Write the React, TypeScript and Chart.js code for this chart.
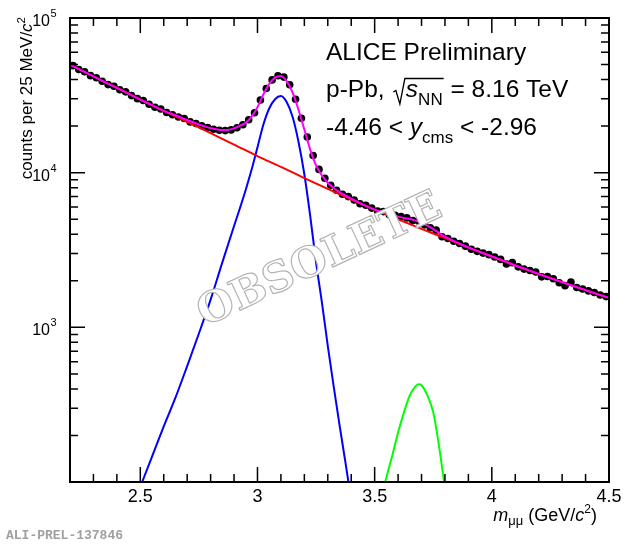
import React, { useEffect, useRef } from "react";
import { Chart, registerables } from "chart.js";

Chart.register(...registerables);

const SANS = '"Liberation Sans", Arial, Helvetica, sans-serif';
const MONO = '"Liberation Mono", "Courier New", monospace';
const STAMP = '"DejaVu Serif", "Liberation Serif", serif';

// dimuon invariant mass, 25 MeV/c^2 bins (centres)
const binCentres: number[] = [
  2.2125, 2.2375, 2.2625, 2.2875, 2.3125, 2.3375, 2.3625, 2.3875, 2.4125, 2.4375,
  2.4625, 2.4875, 2.5125, 2.5375, 2.5625, 2.5875, 2.6125, 2.6375, 2.6625, 2.6875,
  2.7125, 2.7375, 2.7625, 2.7875, 2.8125, 2.8375, 2.8625, 2.8875, 2.9125, 2.9375,
  2.9625, 2.9875, 3.0125, 3.0375, 3.0625, 3.0875, 3.1125, 3.1375, 3.1625, 3.1875,
  3.2125, 3.2375, 3.2625, 3.2875, 3.3125, 3.3375, 3.3625, 3.3875, 3.4125, 3.4375,
  3.4625, 3.4875, 3.5125, 3.5375, 3.5625, 3.5875, 3.6125, 3.6375, 3.6625, 3.6875,
  3.7125, 3.7375, 3.7625, 3.7875, 3.8125, 3.8375, 3.8625, 3.8875, 3.9125, 3.9375,
  3.9625, 3.9875, 4.0125, 4.0375, 4.0625, 4.0875, 4.1125, 4.1375, 4.1625, 4.1875,
  4.2125, 4.2375, 4.2625, 4.2875, 4.3125, 4.3375, 4.3625, 4.3875, 4.4125, 4.4375,
  4.4625, 4.4875,
];
const counts: number[] = [
  49200, 46500, 44900, 42400, 41100, 39000, 37100, 36200, 34400, 33300,
  31500, 30100, 29300, 27700, 26500, 25800, 24500, 23700, 22900, 22400,
  21300, 20800, 20100, 19600, 19100, 18800, 18700, 18900, 19500, 20400,
  22000, 24400, 29500, 35000, 39800, 42300, 41500, 37000, 29800, 22500,
  17000, 12900, 10500, 9200, 8300, 7700, 7250, 7000, 6650, 6300,
  6150, 5900, 5650, 5600, 5350, 5300, 5200, 5100, 4900, 4850,
  4600, 4400, 4250, 3850, 3750, 3600, 3480, 3350, 3200, 3100,
  3020, 2950, 2850, 2750, 2570, 2620, 2460, 2380, 2330, 2280,
  2120, 2130, 2060, 1940, 1860, 1960, 1810, 1770, 1720, 1680,
  1620, 1580,
];

// total fit (magenta)
const totalMass: number[] = [
  2.2, 2.25, 2.3, 2.35, 2.4, 2.45, 2.5, 2.55, 2.6, 2.65,
  2.7, 2.75, 2.8, 2.85, 2.875, 2.9, 2.925, 2.95, 2.975, 3.0,
  3.025, 3.05, 3.075, 3.1, 3.125, 3.15, 3.175, 3.2, 3.225, 3.25,
  3.275, 3.3, 3.325, 3.35, 3.4, 3.45, 3.5, 3.55, 3.6, 3.625,
  3.65, 3.675, 3.7, 3.725, 3.75, 3.775, 3.8, 3.85, 3.9, 3.95,
  4.0, 4.05, 4.1, 4.15, 4.2, 4.25, 4.3, 4.35, 4.4, 4.45, 4.5,
];
const totalFit: number[] = [
  49900, 45700, 41900, 38400, 35300, 32400, 29700, 27300, 25100, 23500,
  21900, 20500, 19400, 18850, 18900, 19350, 20100, 21000, 23000, 26500,
  32000, 37500, 41200, 42100, 38900, 32900, 25500, 19000, 14100, 11140,
  9600, 8610, 7970, 7490, 6790, 6220, 5770, 5470, 5200, 5090,
  5010, 4900, 4750, 4540, 4320, 4070, 3860, 3540, 3280, 3070,
  2870, 2690, 2510, 2360, 2210, 2080, 1960, 1845, 1740, 1640, 1550,
];

// background (red)
const bkgMass: number[] = [
  2.2, 2.3, 2.4, 2.5, 2.6, 2.7, 2.8, 2.9, 3.0, 3.1, 3.2, 3.3,
  3.4, 3.5, 3.6, 3.7, 3.8, 3.9, 4.0, 4.1, 4.2, 4.3, 4.4, 4.5,
];
const bkgFit: number[] = [
  49900, 41900, 35300, 29650, 25100, 21300, 18000, 15200, 12800, 10900, 9230, 7850,
  6710, 5770, 4990, 4330, 3770, 3280, 2870, 2510, 2210, 1960, 1740, 1550,
];

// J/psi signal (blue)
const jpsiMass: number[] = [
  2.5, 2.55, 2.6, 2.65, 2.7, 2.75, 2.8, 2.85, 2.9, 2.925, 2.95, 2.975, 3.0, 3.025, 3.05,
  3.075, 3.1, 3.125, 3.15, 3.175, 3.2, 3.225, 3.25, 3.275, 3.3, 3.325, 3.35, 3.375, 3.4,
];
const jpsiFit: number[] = [
  93, 146, 229, 351, 562, 912, 1510, 2630, 4520, 5890, 7760, 10470, 14620, 20420, 26000,
  29850, 31260, 28510, 22910, 15850, 9770, 5250, 2630, 1445, 759, 417, 234, 135, 76,
];

// psi(2S) signal (green)
const psi2sMass: number[] = [
  3.525, 3.55, 3.575, 3.6, 3.625, 3.65, 3.675, 3.69, 3.7, 3.725, 3.75, 3.775, 3.8, 3.825,
];
const psi2sFit: number[] = [76, 107, 148, 209, 282, 363, 417, 428, 422, 363, 282, 170, 91, 50];

const xMajor: number[] = [2.5, 3, 3.5, 4, 4.5];
const xMajorLabels: string[] = ["2.5", "3", "3.5", "4", "4.5"];
const yDecades: number[] = [1e3, 1e4, 1e5];
const yDecadeExp: string[] = ["3", "4", "5"];

type Seg = { t: string; size: number; italic?: boolean; dy?: number };

const setFont = (ctx: CanvasRenderingContext2D, s: Seg) => {
  ctx.font = `${s.italic ? "italic " : ""}${s.size}px ${SANS}`;
};

// draws a run of text pieces (sub/superscripts via dy), returns end x
const drawRich = (
  ctx: CanvasRenderingContext2D,
  segs: Seg[],
  x: number,
  y: number,
  align: "left" | "right" = "left"
) => {
  let w = 0;
  for (const s of segs) {
    setFont(ctx, s);
    w += ctx.measureText(s.t).width;
  }
  let cx = align === "right" ? x - w : x;
  for (const s of segs) {
    setFont(ctx, s);
    ctx.fillText(s.t, cx, y + (s.dy || 0));
    cx += ctx.measureText(s.t).width;
  }
  return cx;
};

const rootStyle = {
  id: "rootStyle",
  afterDraw(chart: Chart) {
    const ctx = chart.ctx;
    const { left, right, top, bottom } = chart.chartArea;
    const xs = chart.scales.x;
    const ys = chart.scales.y;

    // watermark
    ctx.save();
    ctx.translate(320, 261);
    ctx.rotate((-25 * Math.PI) / 180);
    ctx.font = `bold 42px ${STAMP}`;
    ctx.textAlign = "center";
    ctx.textBaseline = "middle";
    ctx.lineJoin = "round";
    ctx.fillStyle = "#ffffff";
    ctx.fillText("OBSOLETE", 0, 0);
    ctx.strokeStyle = "#b4b4b4";
    ctx.lineWidth = 1.2;
    ctx.strokeText("OBSOLETE", 0, 0);
    ctx.restore();

    ctx.save();
    ctx.strokeStyle = "#000";
    ctx.fillStyle = "#000";
    ctx.lineWidth = 1.5;

    // x ticks (bottom and top), every 0.1
    ctx.beginPath();
    for (let i = 22; i <= 45; i++) {
      const px = xs.getPixelForValue(i / 10);
      const len = i % 5 === 0 ? 15 : 8;
      ctx.moveTo(px, bottom);
      ctx.lineTo(px, bottom - len);
      ctx.moveTo(px, top);
      ctx.lineTo(px, top + len);
    }
    // y ticks (left and right)
    for (let d = 100; d <= 1e4; d *= 10) {
      for (let k = 1; k <= 9; k++) {
        const py = ys.getPixelForValue(d * k);
        const len = k === 1 ? 15 : 8;
        ctx.moveTo(left, py);
        ctx.lineTo(left + len, py);
        ctx.moveTo(right, py);
        ctx.lineTo(right - len, py);
      }
    }
    ctx.stroke();

    // frame
    ctx.lineWidth = 2;
    ctx.strokeRect(left, top, right - left, bottom - top);

    // x tick labels
    ctx.textBaseline = "alphabetic";
    ctx.textAlign = "center";
    ctx.font = `18px ${SANS}`;
    xMajor.forEach((v, i) => {
      ctx.fillText(xMajorLabels[i], xs.getPixelForValue(v), 502);
    });

    // y tick labels 10^n
    ctx.textAlign = "left";
    yDecades.forEach((v, i) => {
      const py = ys.getPixelForValue(v);
      drawRich(ctx, [{ t: "10", size: 16 }], 50, py + 8, "right");
      drawRich(ctx, [{ t: yDecadeExp[i], size: 11 }], 50.5, py - 1);
    });

    // axis titles
    drawRich(
      ctx,
      [
        { t: "m", size: 18, italic: true },
        { t: "\u03bc\u03bc", size: 13, dy: 4 },
        { t: " (GeV/", size: 18 },
        { t: "c", size: 18, italic: true },
        { t: "2", size: 12, dy: -8 },
        { t: ")", size: 18 },
      ],
      597,
      521,
      "right"
    );
    ctx.save();
    ctx.translate(32, 17);
    ctx.rotate(-Math.PI / 2);
    drawRich(
      ctx,
      [
        { t: "counts per 25 MeV/", size: 17 },
        { t: "c", size: 17, italic: true },
        { t: "2", size: 11.5, dy: -7.5 },
      ],
      0,
      0,
      "right"
    );
    ctx.restore();

    // labels
    drawRich(ctx, [{ t: "ALICE Preliminary", size: 24.5 }], 326, 60);
    const cx = drawRich(ctx, [{ t: "p-Pb, ", size: 24.5 }], 326, 97);
    const rx = cx + 2;
    ctx.lineWidth = 1.3;
    ctx.beginPath();
    ctx.moveTo(rx, 92);
    ctx.lineTo(rx + 2.5, 90.5);
    ctx.lineTo(rx + 6.5, 104);
    ctx.lineTo(rx + 11.5, 78.5);
    const ex = drawRich(
      ctx,
      [
        { t: "s", size: 24.5, italic: true },
        { t: "NN", size: 17, dy: 8 },
      ],
      rx + 12.5,
      97
    );
    ctx.lineTo(ex + 1, 78.5);
    ctx.stroke();
    drawRich(ctx, [{ t: " = 8.16 TeV", size: 24.5 }], ex + 1, 97);
    drawRich(
      ctx,
      [
        { t: "-4.46 < ", size: 24.5 },
        { t: "y", size: 24.5, italic: true },
        { t: "cms", size: 17, dy: 8 },
        { t: " < -2.96", size: 24.5 },
      ],
      326,
      135
    );

    // preliminary id
    ctx.font = `bold 13px ${MONO}`;
    ctx.fillStyle = "#a0a0a0";
    ctx.fillText("ALI-PREL-137846", 6, 539);
    ctx.restore();
  },
};

const pairs = (xs: number[], ys: number[]) => xs.map((x, i) => ({ x, y: ys[i] }));

export default function App() {
  const canvasRef = useRef<HTMLCanvasElement>(null);

  useEffect(() => {
    if (!canvasRef.current) return;

    const curve = (label: string, data: { x: number; y: number }[], color: string, order: number) => ({
      label,
      data,
      borderColor: color,
      backgroundColor: color,
      borderWidth: 2,
      pointRadius: 0,
      showLine: true,
      cubicInterpolationMode: "monotone" as const,
      order,
    });

    const chart = new Chart(canvasRef.current, {
      type: "line",
      data: {
        datasets: [
          curve("total", pairs(totalMass, totalFit), "#ff00ff", 1),
          curve("background", pairs(bkgMass, bkgFit), "#ff0000", 2),
          curve("J/psi", pairs(jpsiMass, jpsiFit), "#0000ff", 3),
          curve("psi(2S)", pairs(psi2sMass, psi2sFit), "#00ff00", 4),
          {
            label: "data",
            data: pairs(binCentres, counts),
            showLine: false,
            pointRadius: 3.8,
            pointBackgroundColor: "#000",
            pointBorderWidth: 0,
            borderColor: "#000",
            order: 5,
          },
        ],
      },
      options: {
        responsive: false,
        animation: false,
        events: [],
        layout: { padding: { left: 70, right: 18, top: 18, bottom: 63 } },
        scales: {
          x: { type: "linear", min: 2.2, max: 4.5, display: false },
          y: { type: "logarithmic", min: 100, max: 100000, display: false },
        },
        plugins: {
          legend: { display: false },
          tooltip: { enabled: false },
        },
      },
      plugins: [rootStyle],
    });

    return () => {
      chart.destroy();
    };
  }, []);

  return (
    <div
      style={{
        position: "absolute",
        left: 0,
        top: 0,
        width: 627,
        height: 545,
        background: "#fff",
      }}
    >
      <canvas ref={canvasRef} width={627} height={545} />
    </div>
  );
}
